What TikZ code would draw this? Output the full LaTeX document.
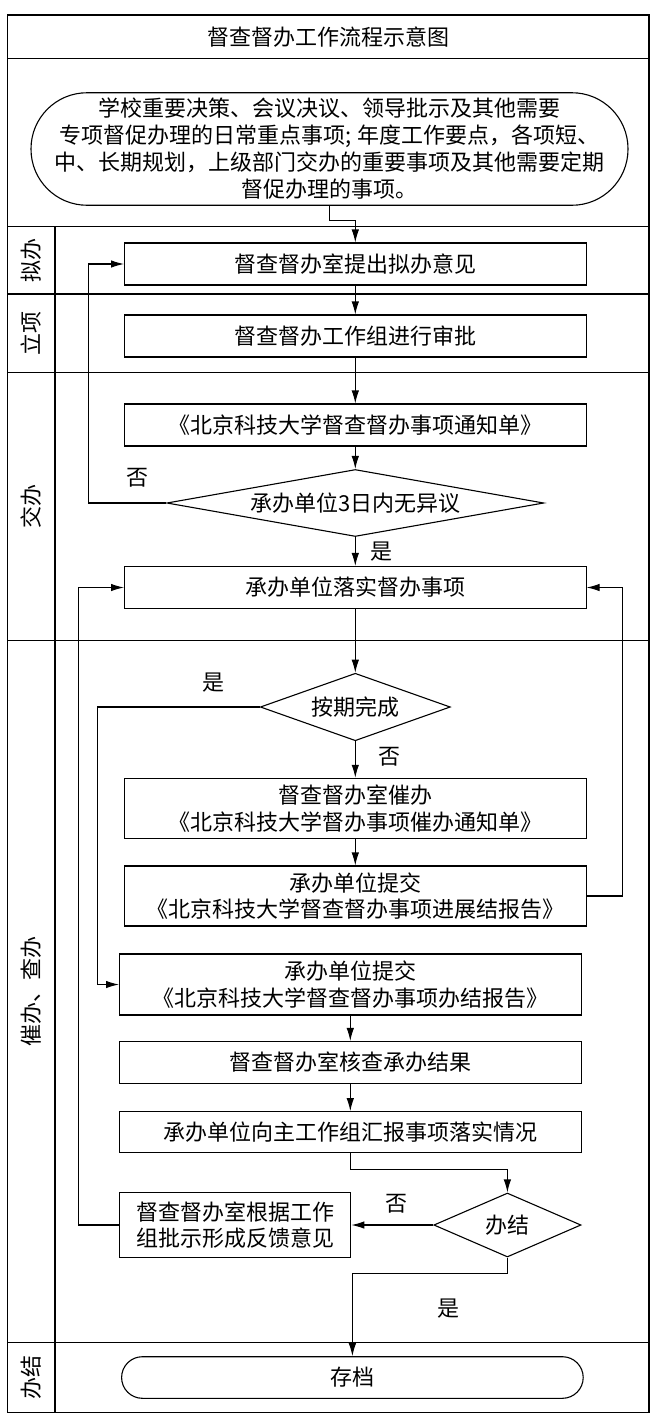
\documentclass[tikz,border=0pt]{standalone}
\usepackage{fontspec}
\newfontfamily\cjk{Noto Sans CJK SC}
\usetikzlibrary{shapes.geometric,arrows.meta}
\begin{document}
\begin{tikzpicture}[x=1pt,y=-1pt,line width=1.1pt,
    every node/.style={font=\cjk\fontsize{22}{26.7}\selectfont},
    box/.style={draw,minimum width=461.5,minimum height=42,inner sep=0,align=center},
    decide/.style={draw,diamond,inner sep=0},
    arr/.style={-{Latex[length=13,width=7.5]}}]
    \useasboundingbox (0,0) rectangle (651,1416);
    % frame and lanes
    \draw (7.5,15) rectangle (649,1412.7);
    \foreach \y in {58.3,226.7,294,372.7,640.7,1342.7} \draw (7.5,\y) -- (649,\y);
    \draw (55,226.7) -- (55,1412.7);
    \node (title) at (328,36.7) {督查督办工作流程示意图};
    \node [rotate=90] (lnA) at (31,260.3) {拟办};
    \node [rotate=90] (lnB) at (31,333.3) {立项};
    \node [rotate=90] (lnC) at (31,506.7) {交办};
    \node [rotate=90] (lnD) at (31,991.7) {催办、查办};
    \node [rotate=90] (lnE) at (31,1377.7) {办结};
    % steps
    \node [box,minimum width=597,minimum height=112.5,rounded corners=56,font=\cjk\fontsize{22}{27}\selectfont] (src) at (329.5,149)
        {学校重要决策、会议决议、领导批示及其他需要\\专项督促办理的日常重点事项; 年度工作要点，各项短、\\中、长期规划，上级部门交办的重要事项及其他需要定期\\督促办理的事项。};
    \node [box] (n1) at (355.3,264) {督查督办室提出拟办意见};
    \node [box] (n2) at (355.3,336) {督查督办工作组进行审批};
    \node [box] (n3) at (355.3,425) {《北京科技大学督查督办事项通知单》};
    \node [decide,minimum width=377,minimum height=67,shape aspect=5.6] (d1) at (355.3,503) {承办单位3日内无异议};
    \node [box] (n4) at (355.3,587.5) {承办单位落实督办事项};
    \node [decide,minimum width=190,minimum height=67.5,shape aspect=2.8] (d2) at (355.3,707) {按期完成};
    \node [box,minimum height=60] (n5) at (355.3,808.3) {督查督办室催办\\《北京科技大学督办事项催办通知单》};
    \node [box,minimum height=60] (n6) at (355.3,896) {承办单位提交\\《北京科技大学督查督办事项进展结报告》};
    \node [box,minimum height=61] (n7) at (350.3,984.5) {承办单位提交\\《北京科技大学督查督办事项办结报告》};
    \node [box] (n8) at (350.3,1062.5) {督查督办室核查承办结果};
    \node [box,minimum height=40.6] (n9) at (350.3,1132) {承办单位向主工作组汇报事项落实情况};
    \node [box,minimum width=231.2,minimum height=65] (n10) at (235.2,1225) {督查督办室根据工作\\组批示形成反馈意见};
    \node [decide,minimum width=147.2,minimum height=64,shape aspect=2.3] (d3) at (507.4,1225) {办结};
    \node [box,minimum width=461.6,minimum height=41.6,rounded corners=20.8] (n11) at (352.4,1377.5) {存档};
    % yes / no
    \node (yes1) at (381,551.7) {是};
    \node (no1) at (137,478) {否};
    \node (yes2) at (213.8,682.7) {是};
    \node (no2) at (389.4,756.7) {否};
    \node (no3) at (396.4,1203.3) {否};
    \node (yes3) at (448.3,1308.3) {是};
    % connectors
    \draw [arr] (src.south) -- ++(0,15) -| (n1.north);
    \draw [arr] (n1) -- (n2);
    \draw [arr] (n2) -- (n3);
    \draw [arr] (n3) -- (d1);
    \draw [arr] (d1) -- (n4);
    \draw [arr] (d1.west) -- ++(-78,0) |- (n1.west);
    \draw [arr] (n4) -- (d2);
    \draw [arr] (d2) -- (n5);
    \draw [arr] (n5) -- (n6);
    \draw [arr] (d2.west) -- ++(-162,0) |- (n7.west);
    \draw [arr] (n6.east) -- ++(36,0) |- (n4.east);
    \draw [arr] (n7) -- (n8);
    \draw [arr] (n8) -- (n9);
    \draw [arr] (n9.south) -- ++(0,17) -| (d3.north);
    \draw [arr] (d3.west) -- (n10.east);
    \draw [arr] (n10.west) -- ++(-40.7,0) |- (n4.west);
    \draw [arr] (d3.south) -- ++(0,16) -| (n11.north);
\end{tikzpicture}
\end{document}
